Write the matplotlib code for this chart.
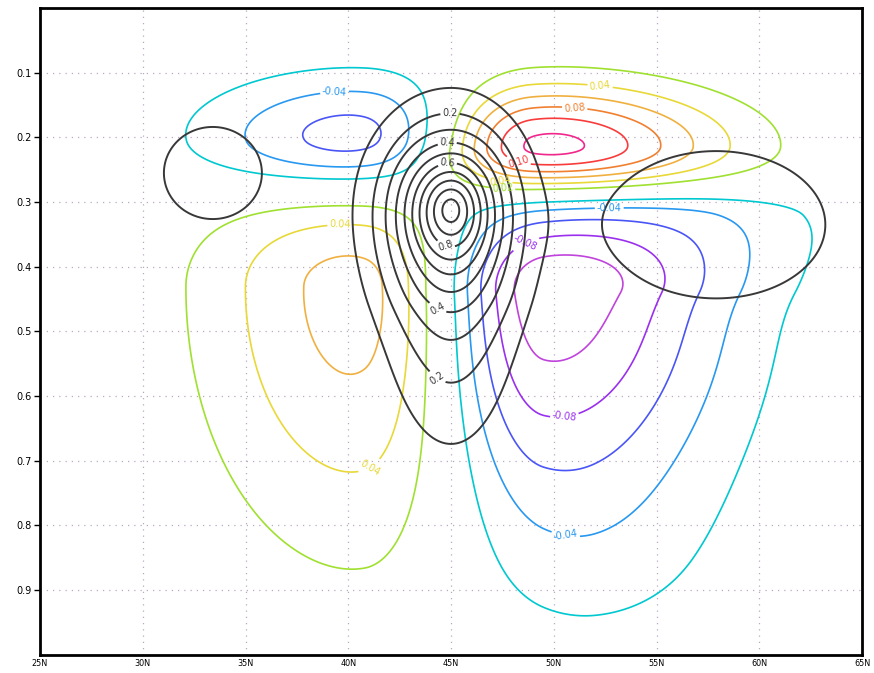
import numpy as np
import matplotlib
matplotlib.use("Agg")
import matplotlib.pyplot as plt

# latitude / level axes
lat_ticks = [25, 30, 35, 40, 45, 50, 55, 60, 65]
lat_labels = ["25N", "30N", "35N", "40N", "45N", "50N", "55N", "60N", "65N"]
lev_ticks = [0.1, 0.2, 0.3, 0.4, 0.5, 0.6, 0.7, 0.8, 0.9]
lev_labels = ["0.1", "0.2", "0.3", "0.4", "0.5", "0.6", "0.7", "0.8", "0.9"]

# black field: blobs
# (centre lat, centre level, peak, widths left/right/up/down, shape power)
blk_lat = [45.0, 45.0, 33.4, 57.9]
blk_lev = [0.31, 0.46, 0.255, 0.335]
blk_amp = [1.02, 0.24, 0.15, 0.15]
blk_sxl = [1.7, 2.2, 2.5, 5.6]
blk_sxr = [1.6, 2.2, 2.5, 5.6]
blk_syu = [0.067, 0.08, 0.075, 0.12]
blk_syd = [0.067, 0.16, 0.075, 0.12]
blk_pow = [1.5, 2, 4, 4]
blk_levels = [0.1, 0.2, 0.3, 0.4, 0.5, 0.6, 0.7, 0.8, 0.9, 1.0]

# coloured field: positive / negative centres
col_lat = [49.0, 40.8, 40.8, 49.5, 56.0, 52.0]
col_lev = [0.215, 0.43, 0.205, 0.44, 0.32, 0.85]
col_amp = [0.135, 0.07, -0.078, -0.112, -0.03, -0.016]
col_sxl = [3.2, 5.5, 5.5, 3.3, 7.0, 4.0]
col_sxr = [6.2, 3.3, 4.0, 6.2, 5.5, 5.0]
col_syu = [0.065, 0.11, 0.07, 0.082, 0.03, 0.15]
col_syd = [0.045, 0.28, 0.055, 0.22, 0.07, 0.12]
col_pow = [2, 2, 2, 2, 2, 2]
col_levels = [-0.10, -0.08, -0.06, -0.04, -0.02, 0.02, 0.04, 0.06, 0.08, 0.10, 0.12]
col_colors = ["#c044dc", "#9a30ee", "#4a55f5", "#2898f0", "#00c8d0",
              "#a0e030", "#e8d838", "#f0b040", "#f08030", "#f83c3c", "#f0288c"]

LAT, LEV = np.meshgrid(np.linspace(25, 65, 321), np.linspace(0, 1, 401))


def build(lats, levs, amps, sxl, sxr, syu, syd, pw):
    z = np.zeros_like(LAT)
    for i in range(len(lats)):
        sx = np.where(LAT < lats[i], sxl[i], sxr[i])
        sy = np.where(LEV < levs[i], syu[i], syd[i])
        r = np.hypot((LAT - lats[i]) / sx, (LEV - levs[i]) / sy)
        z += amps[i] * np.exp(-0.5 * r ** pw[i])
    return z


blk = build(blk_lat, blk_lev, blk_amp, blk_sxl, blk_sxr, blk_syu, blk_syd, blk_pow)
col = build(col_lat, col_lev, col_amp, col_sxl, col_sxr, col_syu, col_syd, col_pow)

fig = plt.figure(figsize=(8.74, 6.73), dpi=100)
ax = fig.add_axes([0.0458, 0.027, 0.9405, 0.961])

for x in lat_ticks[1:-1]:
    ax.axvline(x, color="#b8a8c0", lw=0.9, ls=(0, (1, 4)), zorder=0)
for y in lev_ticks:
    ax.axhline(y, color="#b8a8c0", lw=0.9, ls=(0, (1, 4)), zorder=0)

cs = ax.contour(LAT, LEV, col, levels=col_levels, colors=col_colors, linewidths=1.2)
bs = ax.contour(LAT, LEV, blk, levels=blk_levels, colors="#383838", linewidths=1.4)

blk_lab_pos = [(44.95, 0.162), (44.8, 0.204), (44.8, 0.235),
               (44.8, 0.362), (44.5, 0.455), (44.5, 0.563)]
col_lab_pos = [(39.35, 0.137), (52.25, 0.122), (51.0, 0.162), (48.3, 0.235),
               (47.4, 0.263), (47.5, 0.281), (52.7, 0.31), (48.5, 0.355),
               (39.6, 0.335), (50.5, 0.626), (40.8, 0.696), (50.5, 0.83)]
ax.clabel(bs, fmt="%.1f", fontsize=7, inline=True, inline_spacing=2, manual=blk_lab_pos)
ax.clabel(cs, fmt="%.2f", fontsize=7, inline=True, inline_spacing=2, manual=col_lab_pos)

ax.set_xlim(25, 65)
ax.set_ylim(1, 0)
ax.set_xticks(lat_ticks)
ax.set_xticklabels(lat_labels, fontsize=6.5, fontstretch="condensed")
ax.set_yticks(lev_ticks)
ax.set_yticklabels(lev_labels, fontsize=7)
ax.tick_params(axis="y", direction="out", length=4, width=1, pad=2)
ax.tick_params(axis="x", direction="out", length=0, pad=3)
for s in ax.spines.values():
    s.set_linewidth(2)

fig.savefig("out.png", dpi=100)
